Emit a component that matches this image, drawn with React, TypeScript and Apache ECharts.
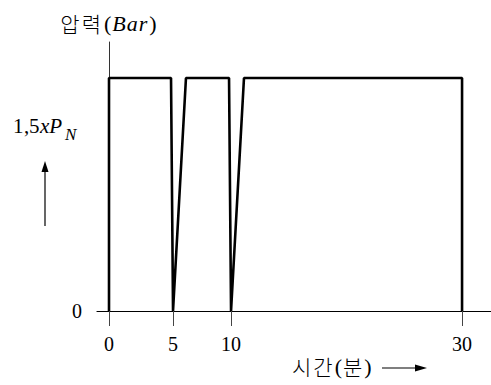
import React, { useEffect, useRef } from "react";
import * as echarts from "echarts";

// Pressure-test profile (time in minutes, pressure as multiple of P_N)
const timePoints = [0, 0, 5.27, 5.44, 6.54, 10.2, 10.37, 11.47, 30, 30];
const pressureValues = [0, 1.5, 1.5, 0, 1.5, 1.5, 0, 1.5, 1.5, 0];

// Tick positions on the time axis as drawn, and their printed labels
const xTickValues = [0, 5.44, 10.37, 30];
const xTickLabels = ["0", "5", "10", "30"];
const yTickValues = [0];
const yTickLabels = ["0"];

const SERIF = "'Liberation Serif', 'DejaVu Serif', serif";
const KR = "'Noto Sans CJK KR', 'Noto Sans', sans-serif";

export default function App() {
  const ref = useRef<HTMLDivElement>(null);

  useEffect(() => {
    if (!ref.current) return;
    const chart = echarts.init(ref.current, null, { renderer: "svg" });
    const data = timePoints.map((t, i) => [t, pressureValues[i]]);
    chart.setOption({
      animation: false,
      backgroundColor: "#ffffff",
      grid: { left: 97, right: 0, top: 42, bottom: 74 },
      xAxis: {
        type: "value",
        min: -1.02,
        max: 32.46,
        axisLine: { onZero: true, lineStyle: { color: "#000", width: 1.2 } },
        axisTick: {
          show: true,
          customValues: xTickValues,
          length: 15,
          inside: false,
          lineStyle: { color: "#444", width: 1 },
        },
        axisLabel: {
          customValues: xTickValues,
          margin: 23,
          fontFamily: SERIF,
          fontSize: 20,
          color: "#000",
          formatter: (v: number) => {
            const i = xTickValues.findIndex((t) => Math.abs(t - v) < 1e-6);
            return i >= 0 ? xTickLabels[i] : "";
          },
        },
        splitLine: { show: false },
      },
      yAxis: {
        type: "value",
        min: 0,
        max: 1.732,
        name: "{k|압}{k|력}{p|(}{i|B}{i|a}{i|r}{p|)}",
        nameLocation: "end",
        nameGap: 8,
        nameTextStyle: {
          fontFamily: KR,
          fontSize: 21,
          color: "#000",
          rich: {
            k: { fontFamily: KR, fontWeight: 300, fontSize: 21, color: "#000", padding: [0, 2, 0, 0] },
            p: { fontFamily: SERIF, fontSize: 22, color: "#000", padding: [0, 1, 0, 1] },
            i: { fontFamily: SERIF, fontStyle: "italic", fontSize: 22, color: "#000", padding: [0, 1, 0, 0] },
          },
        },
        axisLine: { show: true, onZero: true, lineStyle: { color: "#333", width: 1 } },
        axisTick: { show: false },
        axisLabel: {
          customValues: yTickValues,
          margin: 15,
          fontFamily: SERIF,
          fontSize: 20,
          color: "#000",
          formatter: (v: number) => {
            const i = yTickValues.findIndex((t) => Math.abs(t - v) < 1e-6);
            return i >= 0 ? yTickLabels[i] : "";
          },
        },
        splitLine: { show: false },
      },
      series: [
        {
          type: "line",
          data,
          symbol: "none",
          lineStyle: { color: "#000", width: 2.6 },
          z: 3,
        },
      ],
      graphic: [
        { type: "text", left: 13, top: 115, style: { text: "1", font: `21px ${SERIF}`, fill: "#000" } },
        { type: "text", left: 24, top: 115, style: { text: ",", font: `21px ${SERIF}`, fill: "#000" } },
        { type: "text", left: 29, top: 115, style: { text: "5", font: `21px ${SERIF}`, fill: "#000" } },
        { type: "text", left: 40, top: 115, style: { text: "xP", font: `italic 21px ${SERIF}`, fill: "#000" } },
        { type: "text", left: 65, top: 126, style: { text: "N", font: `italic 17px ${SERIF}`, fill: "#000" } },
        { type: "line", shape: { x1: 45, y1: 226, x2: 45, y2: 170 }, style: { stroke: "#000", lineWidth: 1.2 } },
        { type: "polygon", shape: { points: [[45, 161], [41.5, 172], [48.5, 172]] }, style: { fill: "#000" } },
        {
          type: "text",
          left: 292,
          top: 355,
          style: {
            text: "{k|시}{k|간}{p|(}{k|분}{p|)}",
            font: `300 21px ${KR}`,
            fill: "#000",
            rich: {
              k: { fontFamily: KR, fontWeight: 300, fontSize: 21, fill: "#000", padding: [0, 2, 0, 0] },
              p: { fontFamily: SERIF, fontSize: 22, fill: "#000", padding: [0, 1, 0, 0] },
            },
          },
        },
        { type: "line", shape: { x1: 382, y1: 368, x2: 418, y2: 368 }, style: { stroke: "#000", lineWidth: 1.2 } },
        { type: "polygon", shape: { points: [[427, 368], [415, 364.5], [415, 371.5]] }, style: { fill: "#000" } },
      ],
    });
    return () => chart.dispose();
  }, []);

  return (
    <div
      ref={ref}
      style={{ position: "fixed", left: 0, top: 0, width: 491, height: 385, background: "#fff" }}
    />
  );
}
